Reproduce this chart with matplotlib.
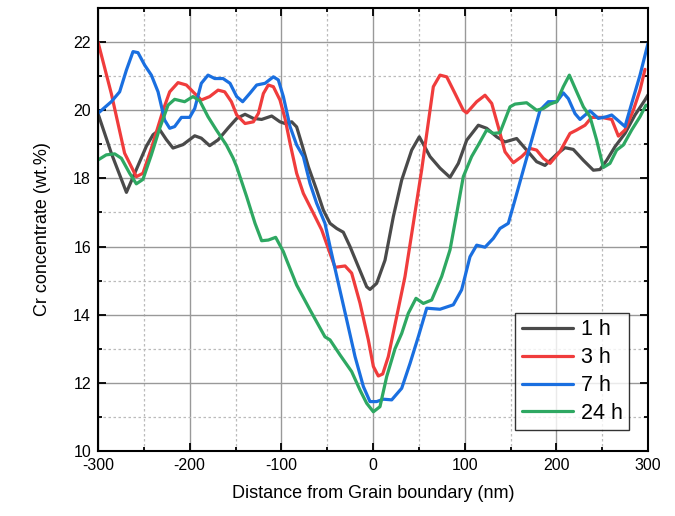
import matplotlib
matplotlib.use('Agg')
import matplotlib.pyplot as plt
from matplotlib.ticker import MultipleLocator

plt.rcParams['font.family'] = ['Liberation Sans', 'DejaVu Sans']
plt.rcParams['axes.unicode_minus'] = False

# data (distance nm, Cr wt.%)
x_1h = [-300, -285.5, -269, -258.2, -247.3, -240, -232.7, -225.5, -218.2, -207.3, -194.5, -187.3,
        -178.2, -169, -158, -148.7, -139.6, -130.5, -121.5, -110.5, -101.5, -96, -88.7, -83.3, -77.8,
        -70.5, -61.5, -54.2, -46.9, -39.6, -32.4, -25.1, -16, -6.9, -3.3, 4, 13.1, 22.2, 31.3, 42.2,
        50.5, 62.2, 73.1, 84, 93.1, 102.2, 114.9, 124, 134.9, 144, 156.7, 167.6, 178.5, 187.6, 200.4,
        209.5, 218.5, 229.5, 240.4, 247.6, 254.9, 264, 274.9, 285.8, 296.7, 300]
y_1h = [19.9, 18.74, 17.59, 18.26, 18.94, 19.28, 19.43, 19.14, 18.89, 18.99, 19.25, 19.18,
        18.96, 19.13, 19.48, 19.76, 19.88, 19.76, 19.73, 19.83, 19.66, 19.61, 19.66, 19.51, 19.02,
        18.34, 17.66, 17.07, 16.68, 16.53, 16.42, 16.0, 15.41, 14.82, 14.74, 14.92, 15.6, 16.88, 17.95, 18.83,
        19.22, 18.64, 18.3, 18.03, 18.44, 19.12, 19.56, 19.47, 19.22, 19.07, 19.17, 18.83, 18.49, 18.38, 18.71,
        18.9, 18.85, 18.53, 18.24, 18.26, 18.53, 18.93, 19.32, 19.86, 20.3, 20.45]

x_3h = [-300, -285.5, -271, -258.2, -251, -241.8, -229, -221.8, -212.7, -203.6, -194.5, -187.3,
        -178.2, -169, -161.8, -154.5, -148.7, -139.6, -130.5, -125, -119.6, -114.2, -108.7, -101.5, -96,
        -90.5, -83.3, -76, -65.1, -56, -46.9, -41.4, -30.5, -23.3, -14.2, -5.1, 0.4, 5.8, 10.6, 16.7,
        25.8, 34.9, 44, 53.1, 65.8, 73.1, 80.4, 89.5, 98.5, 102.2, 113.1, 122.2, 129.5, 136.7, 144,
        153.1, 162.2, 171.3, 178.5, 185.8, 193.1, 204, 214.9, 222.2, 231.3, 238.5, 249.3, 260.4, 267.7,
        274.9, 284, 291.3, 296.7]
y_3h = [22.0, 20.49, 18.74, 18.05, 18.15, 18.88, 20.0, 20.54, 20.81, 20.74, 20.49, 20.3,
        20.4, 20.59, 20.54, 20.25, 19.86, 19.61, 19.66, 19.91, 20.49, 20.74, 20.69, 20.3, 19.76,
        19.03, 18.15, 17.56, 16.98, 16.49, 15.8, 15.39, 15.43, 15.22, 14.34, 13.26, 12.48, 12.2, 12.26, 12.77,
        13.94, 15.12, 16.68, 18.25, 20.69, 21.03, 20.98, 20.49, 20.0, 19.92, 20.25, 20.44, 20.2, 19.51, 18.78,
        18.46, 18.64, 18.88, 18.83, 18.59, 18.44, 18.79, 19.32, 19.42, 19.56, 19.79, 19.79, 19.73, 19.24,
        19.42, 20.0, 20.59, 21.2]

x_7h = [-300, -285.5, -276.4, -269, -261.8, -256.4, -249, -241.8, -234.5, -227.3, -221.8, -216.4,
        -209, -200, -194.5, -187.3, -180, -172.7, -163.6, -156, -148.7, -142.2, -134.2, -126.9, -117.8,
        -108.7, -103.3, -97.8, -90.5, -83.3, -76, -68.7, -61.5, -52.4, -46.9, -37.8, -28.7, -19.6, -10.5,
        -3.3, 4, 11.3, 20.4, 31.3, 40.4, 49.5, 58.6, 73.1, 87.6, 96.7, 105.8, 113.1, 122.2, 131.3, 138.5,
        147.6, 154.9, 164, 173.1, 182.2, 191.3, 200.4, 207.6, 213.1, 220.4, 225.8, 236.7, 245.8, 254.9,
        260.4, 267.7, 274.9, 282.2, 291.3, 300]
y_7h = [19.91, 20.25, 20.54, 21.18, 21.72, 21.69, 21.32, 21.03, 20.54, 19.71, 19.47, 19.52,
        19.79, 19.79, 20.05, 20.79, 21.03, 20.93, 20.93, 20.79, 20.4, 20.25, 20.5, 20.74, 20.79,
        20.98, 20.89, 20.4, 19.52, 18.98, 18.64, 17.85, 17.27, 16.68, 16.0, 14.92, 13.85, 12.77, 11.89,
        11.45, 11.45, 11.52, 11.5, 11.84, 12.57, 13.36, 14.19, 14.16, 14.29, 14.73, 15.7, 16.04, 15.98, 16.24, 16.53,
        16.68, 17.37, 18.25, 19.12, 20.0, 20.25, 20.25, 20.51, 20.34, 19.9, 19.73, 19.98, 19.76, 19.81,
        19.86, 19.69, 19.52, 20.2, 21.03, 21.96]

x_24h = [-300, -291, -281.8, -274.5, -265.5, -258.2, -251, -241.8, -232.7, -223.6, -216.4, -205.5,
         -196.4, -189, -180, -170.9, -160, -152.7, -148.7, -137.8, -128.7, -121.5, -114.2, -106.2, -97.8,
         -94.2, -83.3, -68.7, -52.4, -46.9, -36, -23.3, -14.2, -6.9, 0.4, 7.6, 14.9, 24, 31.3, 38.5, 46.9,
         54.9, 64, 74.9, 84, 91.3, 98.5, 107.6, 114.9, 124, 131.3, 138.5, 149.5, 154.9, 167.6, 178.5,
         185.8, 193.1, 200.4, 207.6, 214.2, 222.2, 229.5, 236.7, 244, 251.3, 258.5, 265.8, 273.1, 282.2,
         291.3, 297.8]
y_24h = [18.54, 18.69, 18.72, 18.59, 18.15, 17.84, 17.97, 18.69, 19.47, 20.15, 20.32, 20.25,
         20.4, 20.28, 19.81, 19.42, 18.98, 18.6, 18.34, 17.46, 16.68, 16.17, 16.19, 16.27, 15.85,
         15.6, 14.87, 14.14, 13.35, 13.26, 12.82, 12.33, 11.79, 11.4, 11.15, 11.3, 12.18, 13.0, 13.45, 14.04, 14.48,
         14.33, 14.43, 15.12, 15.9, 16.97, 18.05, 18.64, 18.98, 19.42, 19.32, 19.34, 20.1, 20.18, 20.22, 20.0,
         20.05, 20.18, 20.25, 20.69, 21.03, 20.54, 20.1, 19.81, 19.12, 18.32, 18.44, 18.83, 18.98, 19.42,
         19.81, 20.15]

series = [
    (x_1h, y_1h, '1 h', '#4a4a4a'),
    (x_3h, y_3h, '3 h', '#f03c3c'),
    (x_7h, y_7h, '7 h', '#1a6fe0'),
    (x_24h, y_24h, '24 h', '#2ea862'),
]


def main():
    fig = plt.figure(figsize=(6.75, 5.16), dpi=100)
    ax = fig.add_axes([0.1452, 0.126, 0.8148, 0.8585])

    for xs, ys, name, color in series:
        ax.plot(xs, ys, color=color, lw=2.3, label=name,
                solid_joinstyle='round', solid_capstyle='round')

    ax.set_xlim(-300, 300)
    ax.set_ylim(10, 23)
    ax.xaxis.set_major_locator(MultipleLocator(100))
    ax.xaxis.set_minor_locator(MultipleLocator(50))
    ax.yaxis.set_major_locator(MultipleLocator(2))
    ax.yaxis.set_minor_locator(MultipleLocator(1))

    ax.grid(True, which='major', color='#999999', lw=1.0, ls='-')
    ax.grid(True, which='minor', color='#bbbbbb', lw=0.9, ls=(0, (2, 2)))
    ax.set_axisbelow(True)

    ax.tick_params(which='both', direction='in', top=True, right=True, width=1.3)
    ax.tick_params(which='major', length=6, labelsize=11.5, pad=5)
    ax.tick_params(which='minor', length=3)
    for s in ax.spines.values():
        s.set_linewidth(1.5)

    ax.set_xlabel('Distance from Grain boundary (nm)', fontsize=13, labelpad=9)
    ax.set_ylabel('Cr concentrate (wt.%)', fontsize=13, labelpad=16)

    leg = ax.legend(loc='lower right', bbox_to_anchor=(0.966, 0.047), fontsize=15.5, frameon=True,
                    fancybox=False, edgecolor='black', handlelength=2.4, handletextpad=0.35,
                    borderpad=0.3, labelspacing=0.32, borderaxespad=0, handleheight=0.6)
    leg.get_frame().set_linewidth(1.0)
    for line in leg.get_lines():
        line.set_linewidth(2.3)

    fig.savefig('out.png', dpi=100)


if __name__ == '__main__':
    main()
